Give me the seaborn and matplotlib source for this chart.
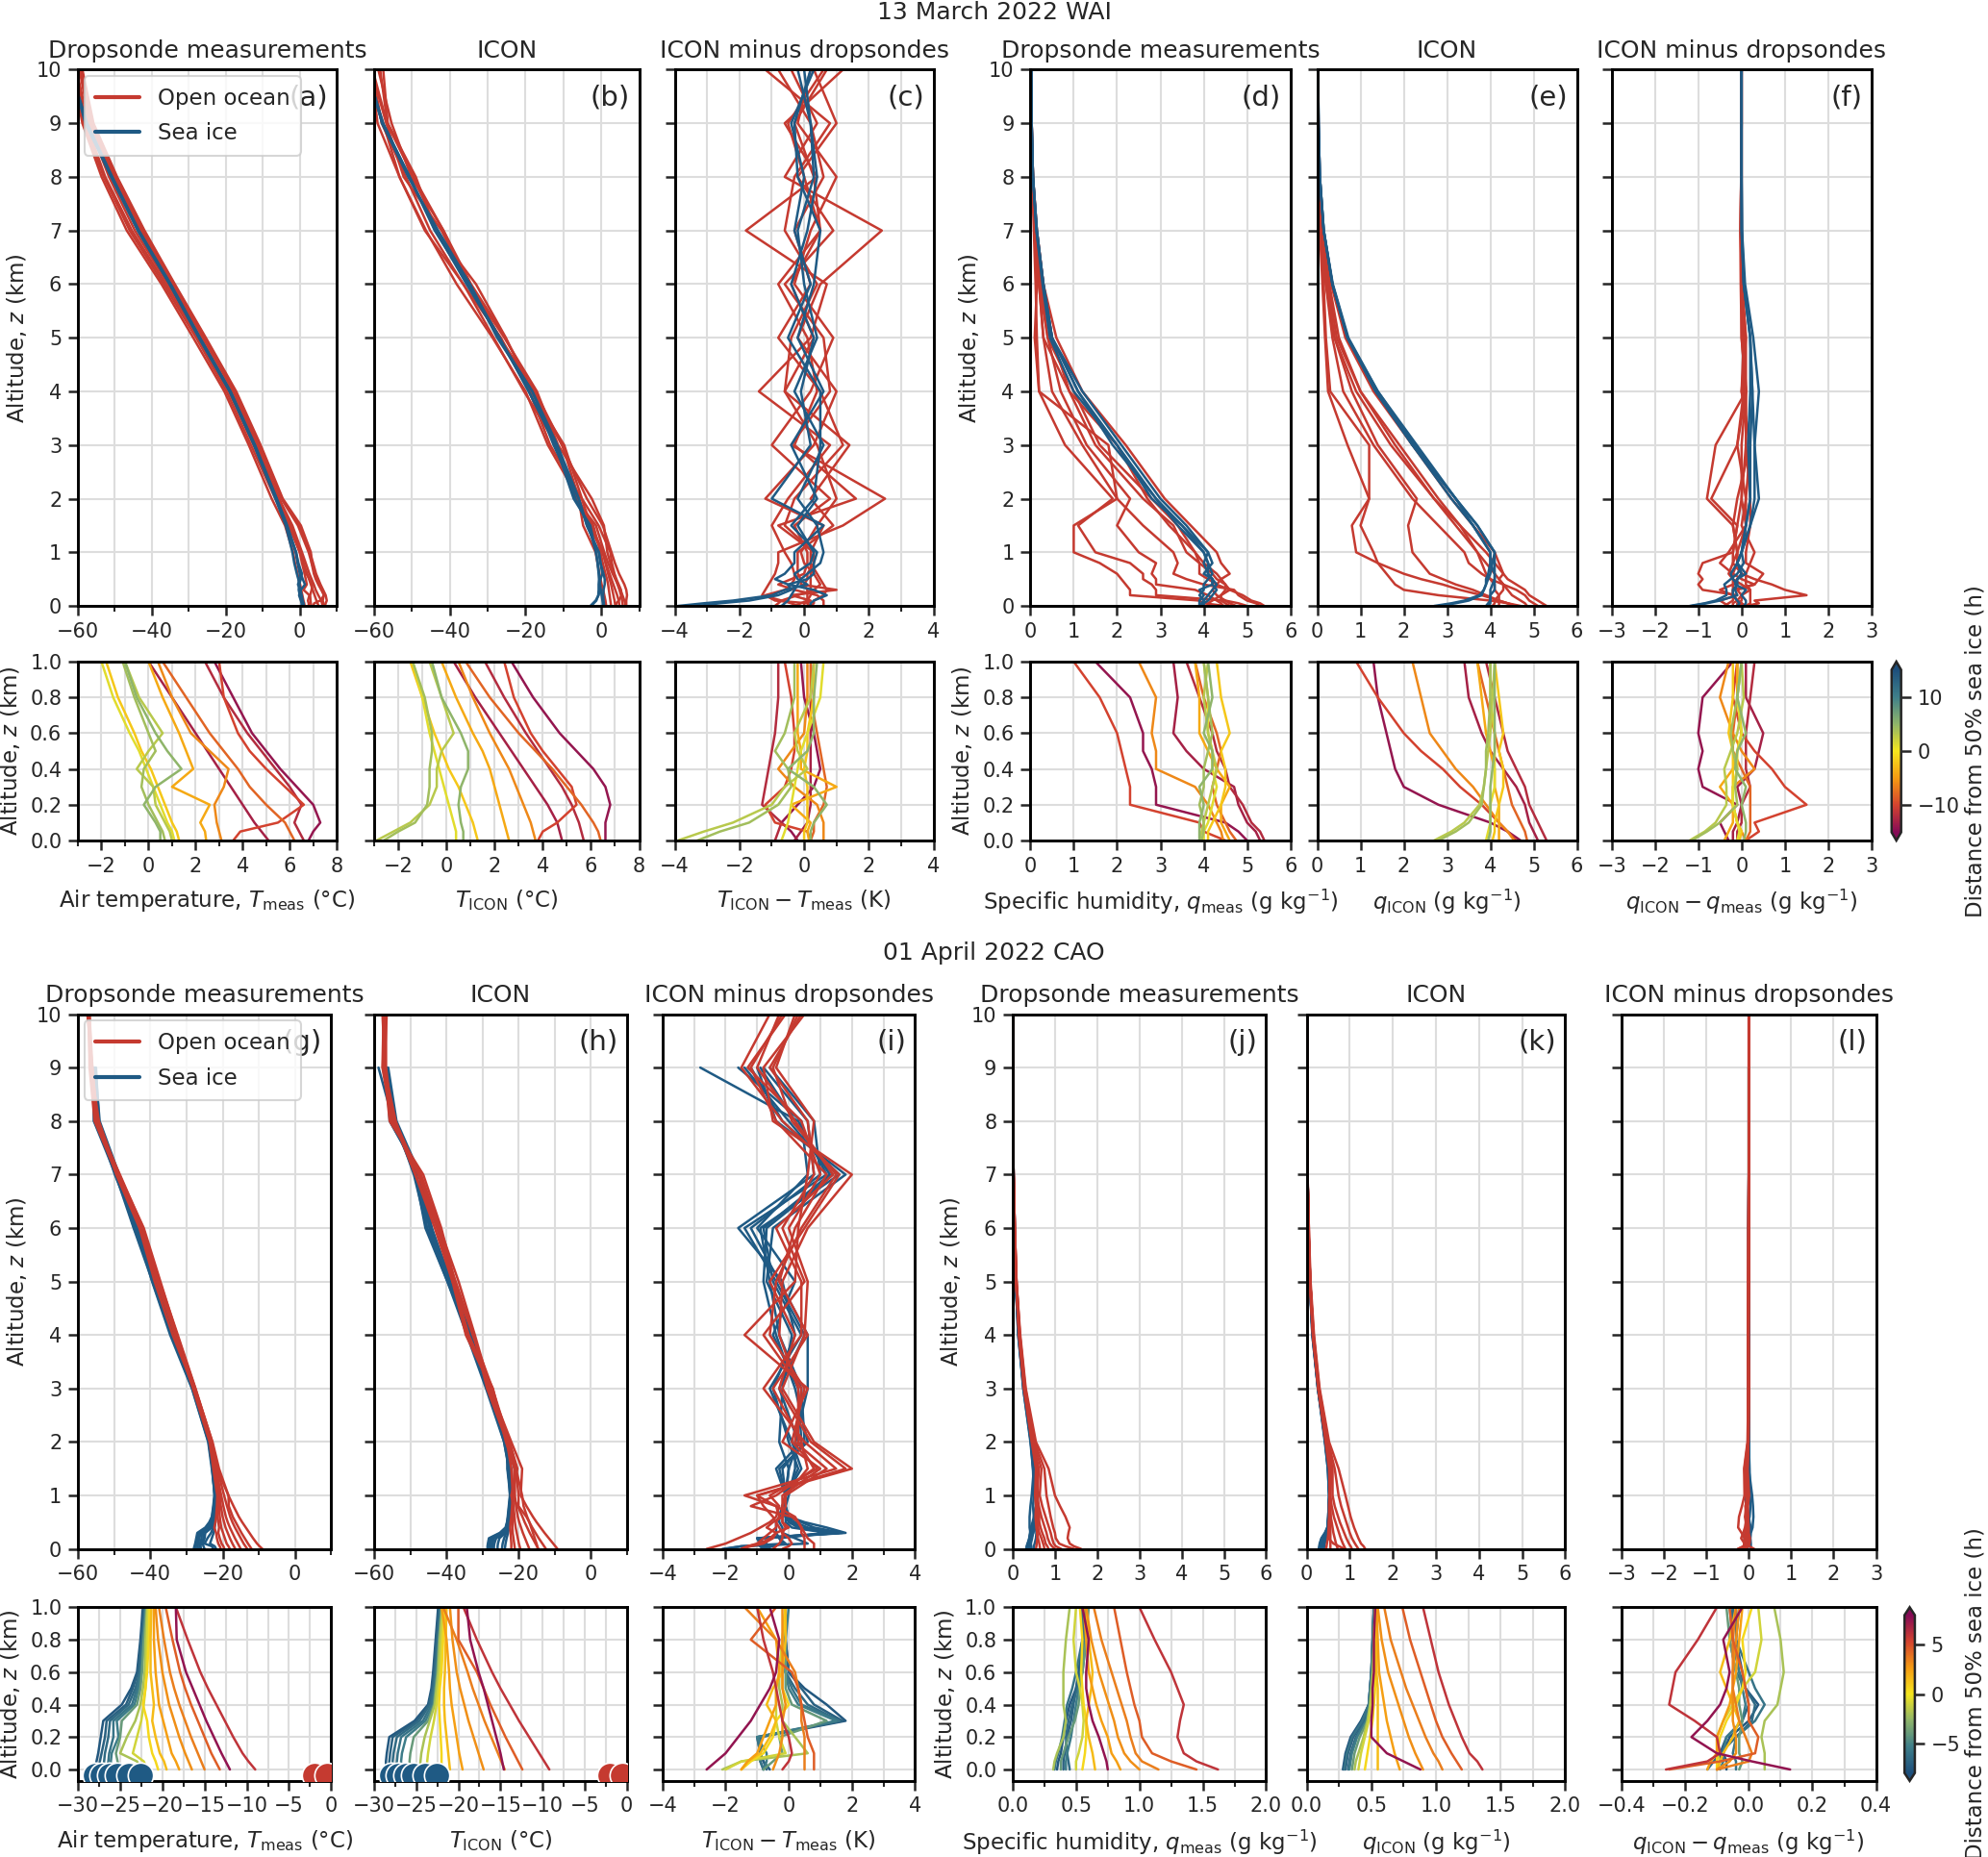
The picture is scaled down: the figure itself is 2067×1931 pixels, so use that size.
import numpy as np
import pandas as pd
import matplotlib
matplotlib.use("Agg")
import matplotlib.pyplot as plt
import seaborn as sns
from matplotlib.colors import LinearSegmentedColormap, Normalize
from matplotlib.cm import ScalarMappable
from matplotlib.lines import Line2D
from matplotlib.ticker import MultipleLocator

# ------------------------------------------------------------------ data
Z_LEVELS = [0, 0.05, 0.1, 0.2, 0.3, 0.4, 0.5, 0.6, 0.8, 1.0, 1.5, 2, 3, 4, 5, 6, 7, 8, 9, 10]

# ---- 13 March 2022 (WAI)
mar_ids = ["M01", "M02", "M03", "M04", "M05", "M06", "M07", "M08", "M09", "M10", "M11", "M12"]
mar_dist = [-14, -13, -12, -10, -8, -6, -4, -2, 1, 3, 4, 5]
mar_surface = ["Open ocean"] * 8 + ["Sea ice"] * 4
mar_T_meas = [
    [6.8, 7.0, 7.3, 7.0, 6.3, 5.6, 5.0, 4.4, 3.6, 2.8, 0.0, -4.8, -10.8, -17.4, -25.6, -34.0, -42.2, -49.6, -56.0, -59.0],
    [5.1, 4.8, 4.5, 4.0, 3.5, 3.0, 2.5, 2.0, 1.0, 0.0, -2.6, -5.6, -11.5, -18.0, -26.0, -34.8, -43.0, -50.2, -56.8, -59.6],
    [6.6, 6.4, 6.2, 6.5, 6.0, 5.4, 4.8, 4.2, 3.2, 2.4, -0.5, -5.0, -11.0, -17.8, -26.2, -34.4, -42.6, -50.0, -56.4, -59.2],
    [3.6, 3.9, 5.5, 6.6, 5.8, 5.0, 4.3, 3.8, 3.2, 3.0, 0.3, -4.6, -10.6, -17.2, -25.4, -33.8, -42.0, -49.4, -55.8, -58.8],
    [6.2, 6.0, 5.8, 5.0, 4.3, 3.8, 3.2, 2.6, 1.6, 0.6, -2.0, -5.6, -12.0, -18.6, -26.8, -35.6, -44.6, -51.6, -57.2, -60.4],
    [3.1, 3.0, 2.9, 2.8, 3.2, 3.4, 2.6, 1.8, 1.0, 0.4, -2.4, -6.0, -12.5, -19.2, -27.4, -36.2, -45.4, -52.6, -57.8, -60.8],
    [2.45, 2.4, 2.2, 2.6, 1.0, 1.9, 1.6, 1.3, 0.6, 0.0, -3.0, -6.6, -13.2, -19.8, -28.0, -36.8, -46.0, -53.0, -58.4, -61.0],
    [1.3, 1.2, 1.0, 0.7, 0.4, 0.1, -0.3, -0.6, -1.3, -1.8, -4.0, -7.6, -13.8, -20.4, -28.8, -37.4, -46.8, -53.6, -58.8, -61.5],
    [1.1, 1.0, 0.8, 0.5, 0.2, -0.1, -0.4, -0.8, -1.5, -2.0, -3.8, -6.6, -12.4, -18.9, -27.2, -35.2, -43.8, -51.0, -58.0, -62.0],
    [1.0, 0.9, 0.7, 0.3, 0.2, -0.5, 0.0, 0.6, -0.4, -1.0, -3.6, -6.4, -12.2, -18.8, -27.0, -35.0, -43.6, -50.8, -57.6, -62.0],
    [0.7, 0.6, 0.4, 0.0, -0.3, -0.2, 0.3, 0.0, -0.6, -1.1, -3.5, -6.3, -12.3, -19.0, -27.3, -35.2, -43.8, -51.0, -57.8, -62.0],
    [0.5, 0.5, 0.3, -0.2, 0.3, 1.4, 0.8, 0.3, -0.5, -1.0, -3.4, -6.2, -12.1, -18.7, -27.0, -34.9, -43.5, -50.7, -57.5, -62.0],
]
mar_T_icon = [
    [6.6, 6.6, 6.6, 6.8, 6.6, 6.1, 5.4, 4.7, 3.6, 2.7, 0.4, -3.8, -10.4, -18.0, -25.3, -34.4, -41.7, -49.6, -56.5, -58.4],
    [4.8, 4.7, 4.6, 4.2, 3.7, 3.2, 2.7, 2.2, 1.2, 0.3, -3.2, -5.9, -10.3, -17.5, -26.8, -34.6, -43.3, -49.6, -56.6, -60.4],
    [5.7, 5.6, 5.5, 5.2, 4.8, 4.3, 3.8, 3.3, 2.4, 1.6, 0.7, -2.5, -11.4, -17.0, -25.6, -35.0, -41.7, -50.2, -55.4, -58.9],
    [3.8, 4.0, 4.6, 5.4, 5.2, 4.6, 4.0, 3.5, 2.8, 2.4, -0.7, -5.1, -9.8, -18.6, -25.2, -33.1, -43.8, -49.0, -56.4, -57.6],
    [6.4, 6.3, 6.1, 5.6, 5.0, 4.4, 3.7, 3.0, 1.8, 0.8, -1.4, -6.8, -11.7, -17.6, -27.0, -35.1, -42.2, -52.2, -56.8, -60.8],
    [3.7, 3.6, 3.5, 3.2, 2.9, 2.6, 2.2, 1.8, 1.1, 0.5, -2.7, -5.2, -13.5, -19.0, -26.5, -36.5, -45.2, -51.6, -58.0, -60.6],
    [2.6, 2.5, 2.4, 2.2, 2.0, 1.8, 1.5, 1.1, 0.4, -0.2, -2.1, -6.4, -11.8, -20.4, -28.4, -36.4, -46.6, -53.3, -57.6, -62.2],
    [1.3, 1.2, 1.1, 0.8, 0.5, 0.1, -0.2, -0.5, -1.0, -1.5, -4.8, -6.0, -14.1, -20.0, -28.7, -38.2, -46.3, -53.3, -59.1, -60.8],
    [0.4, 0.4, 0.3, 0.1, -0.1, -0.3, -0.5, -0.7, -1.0, -1.4, -3.4, -6.8, -11.8, -19.2, -26.8, -35.2, -44.0, -50.7, -57.8, -62.2],
    [-2.9, -2.2, -1.5, -0.7, -0.4, -0.4, -0.2, 0.3, -0.2, -0.7, -3.8, -6.0, -12.6, -18.2, -27.2, -34.7, -43.1, -51.0, -57.9, -61.8],
    [-2.6, -2.0, -1.3, -0.8, -0.7, -0.7, -0.6, -0.6, -0.9, -1.4, -2.9, -7.3, -12.1, -19.1, -27.0, -35.6, -43.7, -50.6, -57.6, -62.0],
    [0.7, 0.7, 0.6, 0.5, 0.6, 0.9, 0.9, 0.6, -0.2, -0.6, -3.8, -5.9, -11.6, -18.2, -27.5, -34.7, -43.8, -50.7, -57.9, -61.7],
]
mar_q_meas = [
    [5.0, 4.8, 4.5, 2.9, 2.9, 2.8, 2.6, 2.6, 2.3, 1.5, 1.1, 1.9, 0.8, 0.2, 0.15, 0.12, 0.08, 0.04, 0.02, 0.01],
    [5.3, 5.2, 5.0, 4.8, 4.7, 4.0, 3.6, 3.3, 3.4, 3.3, 2.6, 2.0, 1.2, 0.5, 0.3, 0.2, 0.1, 0.05, 0.02, 0.01],
    [5.4, 5.3, 5.1, 4.9, 4.6, 4.5, 4.3, 4.2, 3.9, 3.6, 3.3, 2.6, 1.5, 0.9, 0.3, 0.2, 0.12, 0.06, 0.03, 0.01],
    [4.5, 4.0, 3.9, 2.3, 2.3, 2.2, 2.1, 2.0, 1.6, 1.0, 1.0, 2.0, 1.8, 0.2, 0.1, 0.15, 0.1, 0.05, 0.02, 0.01],
    [4.75, 4.6, 4.5, 4.3, 4.2, 4.3, 4.4, 4.3, 4.0, 3.8, 3.2, 2.7, 2.0, 0.9, 0.5, 0.3, 0.15, 0.06, 0.03, 0.01],
    [4.45, 4.4, 4.3, 4.1, 3.8, 2.9, 2.9, 2.8, 2.9, 2.5, 2.0, 2.3, 1.3, 0.7, 0.4, 0.2, 0.1, 0.05, 0.02, 0.01],
    [4.6, 4.5, 4.4, 4.4, 4.6, 4.3, 4.1, 3.9, 3.9, 3.8, 3.4, 2.8, 1.6, 1.0, 0.4, 0.25, 0.12, 0.05, 0.02, 0.01],
    [4.1, 4.1, 4.2, 4.4, 4.5, 4.5, 4.4, 4.6, 4.4, 4.3, 3.7, 3.1, 2.2, 1.2, 0.6, 0.3, 0.15, 0.06, 0.03, 0.01],
    [4.0, 4.0, 4.1, 4.2, 4.3, 4.2, 4.2, 4.1, 4.1, 4.0, 3.5, 2.9, 2.0, 1.1, 0.5, 0.3, 0.15, 0.06, 0.03, 0.02],
    [3.9, 3.95, 4.0, 4.1, 4.2, 4.3, 4.2, 4.1, 4.0, 4.1, 3.6, 3.0, 2.1, 1.2, 0.5, 0.3, 0.15, 0.06, 0.03, 0.02],
    [3.95, 4.0, 4.0, 3.9, 4.0, 4.0, 4.1, 4.2, 4.1, 4.0, 3.4, 2.9, 1.9, 1.1, 0.5, 0.3, 0.14, 0.06, 0.03, 0.02],
    [3.9, 3.9, 3.9, 4.0, 3.9, 4.2, 4.2, 4.0, 4.2, 4.1, 3.5, 2.8, 2.0, 1.0, 0.45, 0.28, 0.14, 0.06, 0.03, 0.02],
]
mar_q_icon = [
    [4.7, 4.4, 4.0, 2.8, 2.0, 1.8, 1.7, 1.6, 1.4, 1.3, 1.0, 1.2, 0.7, 0.25, 0.18, 0.12, 0.06, 0.03, 0.02, 0.01],
    [5.1, 5.0, 4.9, 4.8, 4.6, 4.3, 4.0, 3.8, 3.5, 3.4, 2.8, 2.2, 1.3, 0.6, 0.35, 0.2, 0.1, 0.05, 0.02, 0.01],
    [5.3, 5.2, 5.1, 4.9, 4.8, 4.6, 4.4, 4.3, 4.1, 3.9, 3.3, 2.7, 1.7, 0.9, 0.4, 0.22, 0.1, 0.05, 0.02, 0.01],
    [4.6, 4.4, 4.2, 3.8, 3.3, 2.9, 2.4, 2.0, 1.4, 0.9, 0.8, 1.2, 1.2, 0.3, 0.2, 0.15, 0.08, 0.04, 0.02, 0.01],
    [4.85, 4.8, 4.7, 4.5, 4.4, 4.3, 4.2, 4.1, 3.9, 3.7, 3.3, 2.8, 1.9, 1.0, 0.5, 0.28, 0.12, 0.05, 0.02, 0.01],
    [4.55, 4.4, 4.2, 3.9, 3.6, 3.2, 2.9, 2.6, 2.4, 2.2, 2.1, 2.3, 1.4, 0.8, 0.4, 0.2, 0.1, 0.05, 0.02, 0.01],
    [4.2, 4.2, 4.2, 4.2, 4.1, 4.1, 4.0, 3.9, 3.8, 3.7, 3.2, 2.7, 1.8, 1.0, 0.45, 0.25, 0.12, 0.05, 0.02, 0.01],
    [4.05, 4.1, 4.1, 4.2, 4.3, 4.3, 4.2, 4.3, 4.2, 4.1, 3.6, 3.1, 2.2, 1.3, 0.65, 0.32, 0.14, 0.06, 0.03, 0.01],
    [3.9, 3.95, 4.0, 4.0, 4.1, 4.1, 4.1, 4.1, 4.0, 4.0, 3.6, 3.1, 2.2, 1.35, 0.7, 0.35, 0.15, 0.06, 0.03, 0.02],
    [2.7, 3.1, 3.4, 3.75, 3.85, 3.9, 3.95, 4.0, 4.05, 4.1, 3.7, 3.2, 2.25, 1.4, 0.7, 0.35, 0.15, 0.06, 0.03, 0.02],
    [2.8, 3.2, 3.5, 3.8, 3.85, 3.9, 3.9, 3.95, 4.0, 4.0, 3.6, 3.2, 2.2, 1.35, 0.7, 0.35, 0.15, 0.06, 0.03, 0.02],
    [3.95, 4.0, 4.0, 4.0, 4.0, 4.05, 4.1, 4.1, 4.1, 4.1, 3.7, 3.2, 2.3, 1.4, 0.72, 0.36, 0.15, 0.06, 0.03, 0.02],
]

# ---- 01 April 2022 (CAO)
nan = np.nan
apr_ids = ["A01", "A02", "A03", "A04", "A05", "A06", "A07", "A08",
           "A09", "A10", "A11", "A12", "A13", "A14", "A15", "A16"]
apr_dist = [-7.5, -7, -6.5, -6, -5.5, -4, -2, -1, 0.5, 1.5, 2.5, 3, 3.5, 4.5, 6, 7.5]
apr_surface = ["Sea ice"] * 8 + ["Open ocean"] * 8
apr_T_meas = [
    [-28.0, -27.8, -27.6, -27.3, -27.0, -24.8, -23.7, -23.0, -22.6, -22.3, -22.8, -23.8, -28.2, -34.0, -39.0, -44.0, -49.5, -55.0, -56.0, nan],
    [-27.5, -27.4, -27.2, -26.8, -26.6, -24.3, -23.5, -22.9, -22.5, -22.2, -22.9, -23.6, -28.0, -33.5, -38.5, -44.5, -49.0, -55.5, -55.5, nan],
    [-27.0, -26.9, -26.8, -26.4, -26.2, -24.0, -23.2, -22.7, -22.4, -22.1, -23.0, -24.0, -28.5, -34.5, -39.5, -43.8, -49.8, -54.8, -56.2, nan],
    [-26.5, -26.4, -26.3, -25.8, -25.8, -23.6, -23.0, -22.6, -22.3, -22.0, -22.7, -23.5, -27.8, -33.2, -38.0, -43.4, -48.8, -54.2, -55.0, nan],
    [-26.0, -26.1, -26.0, -25.2, -25.4, -23.3, -22.8, -22.5, -22.2, -22.0, -22.8, -23.9, -28.4, -34.2, -39.4, -44.6, -49.6, -55.6, -55.8, nan],
    [-25.0, -25.3, -25.5, -25.0, -24.8, -23.0, -22.6, -22.4, -22.2, -21.9, -22.6, -23.7, -28.1, -33.8, -38.8, -44.2, -49.2, -55.2, -55.4, nan],
    [-22.5, -23.0, -25.0, -24.2, -23.2, -22.6, -22.3, -22.1, -22.0, -21.8, -22.5, -23.6, -28.0, -33.6, -38.6, -43.6, -49.0, -54.6, -55.6, nan],
    [-21.8, -22.2, -23.5, -23.0, -22.5, -22.2, -22.0, -21.9, -21.8, -21.7, -22.4, -23.5, -27.9, -33.4, -38.4, -43.2, -48.6, -54.0, -55.2, nan],
    [-20.5, -20.8, -21.2, -21.6, -21.8, -22.3, -22.0, -21.8, -21.6, -21.5, -22.6, -23.6, -28.2, -33.0, -38.0, -42.6, -49.0, -54.2, -56.4, -57.0],
    [-19.5, -19.8, -20.3, -20.8, -21.2, -21.0, -21.2, -21.4, -21.4, -21.3, -22.4, -23.4, -27.9, -33.8, -38.8, -43.0, -49.4, -54.6, -56.6, -57.2],
    [-18.0, -18.4, -18.9, -19.4, -19.9, -20.4, -20.6, -20.8, -21.0, -21.0, -22.3, -23.2, -28.0, -32.6, -37.6, -42.4, -48.6, -55.0, -56.2, -56.8],
    [-16.5, -16.9, -17.3, -18.0, -18.6, -19.2, -19.6, -20.0, -20.5, -20.8, -22.0, -23.3, -27.7, -33.0, -38.2, -42.8, -49.2, -55.4, -56.8, -57.0],
    [-15.0, -15.4, -15.8, -16.6, -17.3, -18.0, -18.6, -19.1, -19.8, -20.4, -21.8, -23.0, -27.6, -32.8, -37.8, -42.2, -48.8, -54.8, -56.0, -57.4],
    [-13.2, -13.7, -14.2, -15.0, -15.8, -16.6, -17.3, -17.9, -18.8, -19.6, -21.5, -22.9, -27.5, -32.4, -37.4, -42.0, -48.4, -55.2, -56.4, -57.0],
    [-9.0, -9.8, -10.5, -11.6, -12.6, -13.6, -14.6, -15.5, -17.0, -18.4, -21.0, -22.8, -27.6, -32.6, -37.2, -41.8, -48.6, -54.6, -56.0, -56.8],
    [-12.0, -12.5, -13.0, -13.9, -14.8, -15.6, -16.4, -17.2, -18.3, -18.4, -21.6, -23.0, -27.8, -33.2, -37.6, -42.4, -49.0, -55.0, -56.2, -57.0],
]
apr_T_icon = [
    [-28.6, -28.6, -28.5, -28.2, -25.2, -23.6, -23.2, -23.0, -22.7, -22.4, -22.8, -23.5, -28.5, -33.5, -39.4, -45.4, -48.3, -54.7, -58.8, nan],
    [-28.2, -28.2, -28.1, -27.8, -24.9, -23.5, -23.1, -22.9, -22.6, -22.3, -23.1, -23.1, -27.6, -33.8, -39.1, -45.4, -47.4, -55.7, -56.7, nan],
    [-27.8, -27.8, -27.7, -27.3, -24.6, -23.4, -23.0, -22.8, -22.5, -22.2, -22.7, -24.0, -29.0, -34.3, -39.7, -45.4, -49.0, -54.2, -57.0, nan],
    [-27.3, -27.3, -27.2, -26.8, -24.2, -23.2, -22.9, -22.7, -22.4, -22.1, -23.0, -22.9, -27.6, -33.6, -38.8, -44.1, -47.4, -54.2, -56.4, nan],
    [-26.8, -26.8, -26.7, -26.2, -23.9, -23.0, -22.8, -22.6, -22.3, -22.0, -22.6, -23.7, -27.8, -33.6, -39.7, -45.8, -48.6, -54.8, -56.4, nan],
    [-25.8, -25.8, -25.7, -25.3, -23.6, -22.9, -22.7, -22.5, -22.3, -22.0, -22.6, -24.0, -28.3, -33.7, -39.5, -44.7, -47.4, -55.6, -56.4, nan],
    [-24.6, -24.5, -24.4, -24.0, -23.4, -22.8, -22.6, -22.4, -22.2, -21.9, -22.9, -23.2, -27.7, -34.1, -38.4, -44.6, -48.4, -54.2, -57.2, nan],
    [-23.8, -23.7, -23.6, -23.3, -22.9, -22.6, -22.4, -22.2, -22.0, -21.8, -22.0, -23.4, -28.5, -33.0, -38.9, -44.0, -47.3, -53.8, -56.1, nan],
    [-22.0, -22.0, -22.0, -22.1, -22.2, -22.3, -22.2, -22.0, -21.8, -21.6, -22.0, -23.2, -28.7, -32.4, -38.3, -42.4, -47.8, -54.6, -57.6, -57.2],
    [-21.0, -21.1, -21.2, -21.4, -21.6, -21.7, -21.7, -21.6, -21.5, -21.4, -21.2, -23.2, -27.5, -34.6, -38.3, -43.2, -48.6, -54.0, -57.2, -56.8],
    [-19.5, -19.7, -19.9, -20.2, -20.5, -20.8, -21.0, -21.1, -21.4, -22.0, -20.5, -22.5, -28.3, -32.4, -38.2, -41.9, -47.0, -55.2, -57.7, -57.4],
    [-17.0, -17.3, -17.6, -18.2, -18.8, -19.3, -19.8, -20.2, -20.7, -21.0, -21.0, -23.5, -27.1, -34.4, -38.0, -42.5, -48.6, -54.6, -57.2, -56.8],
    [-14.5, -14.9, -15.3, -16.1, -16.9, -17.6, -18.3, -18.9, -20.2, -21.8, -20.3, -22.5, -28.4, -32.4, -37.4, -42.6, -47.4, -54.6, -57.0, -57.7],
    [-12.4, -12.9, -13.4, -14.4, -15.3, -16.2, -17.0, -17.8, -20.0, -20.0, -20.7, -22.6, -27.2, -32.7, -37.6, -41.4, -46.4, -55.7, -57.2, -56.5],
    [-9.2, -9.8, -10.4, -11.6, -12.8, -13.9, -15.0, -16.0, -17.8, -19.4, -19.0, -22.0, -27.8, -32.1, -36.6, -41.8, -47.6, -54.2, -57.3, -56.9],
    [-14.6, -14.8, -15.0, -15.5, -16.0, -16.5, -17.0, -17.6, -18.6, -19.0, -20.7, -22.9, -27.3, -33.8, -38.0, -42.0, -47.5, -54.9, -56.7, -56.7],
]
apr_q_meas = [
    [0.35, 0.36, 0.38, 0.40, 0.42, 0.45, 0.50, 0.52, 0.55, 0.55, 0.48, 0.42, 0.25, 0.14, 0.07, 0.04, 0.02, 0.01, 0.005, nan],
    [0.40, 0.40, 0.41, 0.43, 0.46, 0.48, 0.50, 0.53, 0.56, 0.57, 0.50, 0.44, 0.27, 0.15, 0.08, 0.04, 0.02, 0.01, 0.005, nan],
    [0.45, 0.44, 0.43, 0.42, 0.44, 0.47, 0.51, 0.55, 0.58, 0.58, 0.52, 0.45, 0.26, 0.13, 0.07, 0.04, 0.02, 0.01, 0.005, nan],
    [0.33, 0.34, 0.36, 0.39, 0.41, 0.43, 0.47, 0.50, 0.55, 0.56, 0.49, 0.43, 0.28, 0.16, 0.08, 0.05, 0.02, 0.01, 0.005, nan],
    [0.42, 0.42, 0.43, 0.46, 0.48, 0.50, 0.52, 0.54, 0.57, 0.59, 0.51, 0.46, 0.27, 0.15, 0.07, 0.04, 0.02, 0.01, 0.005, nan],
    [0.38, 0.38, 0.40, 0.44, 0.49, 0.52, 0.53, 0.55, 0.58, 0.60, 0.53, 0.47, 0.29, 0.16, 0.08, 0.05, 0.02, 0.01, 0.005, nan],
    [0.32, 0.33, 0.35, 0.40, 0.42, 0.40, 0.40, 0.40, 0.42, 0.45, 0.50, 0.44, 0.26, 0.14, 0.07, 0.04, 0.02, 0.01, 0.005, nan],
    [0.50, 0.50, 0.52, 0.55, 0.56, 0.55, 0.53, 0.50, 0.48, 0.50, 0.48, 0.43, 0.25, 0.13, 0.07, 0.04, 0.02, 0.01, 0.005, nan],
    [0.55, 0.56, 0.57, 0.58, 0.58, 0.56, 0.55, 0.54, 0.55, 0.53, 0.55, 0.45, 0.27, 0.15, 0.08, 0.04, 0.02, 0.01, 0.005, 0.003],
    [0.65, 0.64, 0.63, 0.60, 0.58, 0.60, 0.62, 0.63, 0.60, 0.58, 0.56, 0.46, 0.28, 0.16, 0.08, 0.04, 0.02, 0.01, 0.005, 0.003],
    [0.85, 0.82, 0.78, 0.75, 0.70, 0.66, 0.63, 0.60, 0.58, 0.56, 0.60, 0.47, 0.27, 0.15, 0.08, 0.04, 0.02, 0.01, 0.005, 0.003],
    [1.00, 0.93, 0.88, 0.83, 0.80, 0.76, 0.72, 0.68, 0.62, 0.58, 0.62, 0.48, 0.28, 0.16, 0.09, 0.05, 0.02, 0.01, 0.005, 0.003],
    [1.15, 1.02, 0.97, 0.93, 0.90, 0.86, 0.82, 0.78, 0.70, 0.64, 0.68, 0.50, 0.29, 0.17, 0.09, 0.05, 0.02, 0.01, 0.005, 0.003],
    [1.45, 1.25, 1.10, 1.02, 1.00, 0.96, 0.93, 0.90, 0.85, 0.80, 0.75, 0.52, 0.30, 0.17, 0.09, 0.05, 0.02, 0.01, 0.005, 0.003],
    [1.62, 1.45, 1.35, 1.30, 1.32, 1.35, 1.30, 1.25, 1.12, 1.00, 0.85, 0.55, 0.31, 0.18, 0.09, 0.05, 0.02, 0.01, 0.005, 0.003],
    [0.75, 0.74, 0.72, 0.68, 0.63, 0.60, 0.58, 0.58, 0.60, 0.55, 0.58, 0.47, 0.28, 0.16, 0.08, 0.04, 0.02, 0.01, 0.005, 0.003],
]
apr_q_icon = [
    [0.28, 0.29, 0.30, 0.34, 0.42, 0.48, 0.49, 0.50, 0.51, 0.52, 0.49, 0.42, 0.26, 0.13, 0.07, 0.04, 0.02, 0.01, 0.005, nan],
    [0.30, 0.31, 0.32, 0.36, 0.44, 0.48, 0.49, 0.50, 0.51, 0.52, 0.50, 0.43, 0.27, 0.14, 0.07, 0.04, 0.02, 0.01, 0.005, nan],
    [0.32, 0.33, 0.34, 0.38, 0.45, 0.49, 0.50, 0.51, 0.52, 0.53, 0.50, 0.44, 0.26, 0.14, 0.07, 0.04, 0.02, 0.01, 0.005, nan],
    [0.29, 0.30, 0.31, 0.35, 0.43, 0.48, 0.49, 0.50, 0.51, 0.52, 0.49, 0.43, 0.27, 0.15, 0.08, 0.04, 0.02, 0.01, 0.005, nan],
    [0.33, 0.34, 0.35, 0.39, 0.46, 0.49, 0.50, 0.51, 0.52, 0.53, 0.51, 0.44, 0.27, 0.14, 0.07, 0.04, 0.02, 0.01, 0.005, nan],
    [0.35, 0.36, 0.37, 0.41, 0.47, 0.49, 0.50, 0.51, 0.52, 0.53, 0.51, 0.45, 0.28, 0.15, 0.08, 0.04, 0.02, 0.01, 0.005, nan],
    [0.37, 0.38, 0.40, 0.44, 0.47, 0.49, 0.50, 0.51, 0.52, 0.53, 0.50, 0.44, 0.26, 0.14, 0.07, 0.04, 0.02, 0.01, 0.005, nan],
    [0.40, 0.41, 0.42, 0.45, 0.48, 0.50, 0.51, 0.52, 0.52, 0.53, 0.50, 0.43, 0.26, 0.13, 0.07, 0.04, 0.02, 0.01, 0.005, nan],
    [0.45, 0.46, 0.47, 0.49, 0.51, 0.52, 0.53, 0.53, 0.53, 0.54, 0.52, 0.44, 0.27, 0.14, 0.07, 0.04, 0.02, 0.01, 0.005, 0.003],
    [0.55, 0.55, 0.55, 0.55, 0.55, 0.55, 0.55, 0.54, 0.54, 0.54, 0.53, 0.45, 0.27, 0.15, 0.08, 0.04, 0.02, 0.01, 0.005, 0.003],
    [0.72, 0.70, 0.68, 0.65, 0.62, 0.60, 0.58, 0.56, 0.55, 0.54, 0.55, 0.46, 0.27, 0.15, 0.08, 0.04, 0.02, 0.01, 0.005, 0.003],
    [0.90, 0.87, 0.84, 0.79, 0.75, 0.71, 0.67, 0.63, 0.58, 0.55, 0.57, 0.47, 0.28, 0.15, 0.08, 0.04, 0.02, 0.01, 0.005, 0.003],
    [1.05, 1.02, 0.98, 0.92, 0.87, 0.82, 0.77, 0.73, 0.65, 0.60, 0.60, 0.48, 0.28, 0.16, 0.08, 0.04, 0.02, 0.01, 0.005, 0.003],
    [1.20, 1.16, 1.12, 1.05, 1.00, 0.96, 0.92, 0.88, 0.80, 0.74, 0.65, 0.50, 0.29, 0.16, 0.08, 0.05, 0.02, 0.01, 0.005, 0.003],
    [1.36, 1.32, 1.26, 1.20, 1.15, 1.10, 1.06, 1.02, 0.96, 0.90, 0.74, 0.52, 0.30, 0.17, 0.09, 0.05, 0.02, 0.01, 0.005, 0.003],
    [0.88, 0.75, 0.62, 0.50, 0.50, 0.51, 0.51, 0.52, 0.52, 0.53, 0.55, 0.46, 0.28, 0.15, 0.08, 0.04, 0.02, 0.01, 0.005, 0.003],
]
# surface (skin) temperature markers shown in panels (g) and (h)
apr_skin_T_ice = [-28.0, -27.2, -26.2, -25.3, -24.0, -22.6]
apr_skin_T_ocean = [-2.0, -0.5]

# ------------------------------------------------------------------ style
RED = "#c53a30"
BLUE = "#1f5a84"
DIST_COLORS = ["#850b56", "#d4432f", "#f59b12", "#f5e61e", "#8fb56a", "#3f7f8a", "#1d4f7c"]
cmap_dist = LinearSegmentedColormap.from_list("dist", DIST_COLORS)

sns.set_theme(style="ticks")
plt.rcParams["font.family"] = ["DejaVu Sans"]
plt.rcParams["mathtext.fontset"] = "dejavusans"
plt.rcParams["axes.linewidth"] = 0.7

FS_TICK = 5.0
FS_LABEL = 5.5
FS_TITLE = 6.0
FS_PANEL = 7.0


def build(ids, dist, surf, Tm, Ti, qm, qi):
    rows = []
    for k, pid in enumerate(ids):
        for j, z in enumerate(Z_LEVELS):
            rows.append(dict(pid=pid, z=z, dist=dist[k], surf=surf[k],
                             Tm=Tm[k][j], Ti=Ti[k][j], qm=qm[k][j], qi=qi[k][j]))
    df = pd.DataFrame(rows)
    df["dT"] = df["Ti"] - df["Tm"]
    df["dq"] = df["qi"] - df["qm"]
    return df


df_mar = build(mar_ids, mar_dist, mar_surface, mar_T_meas, mar_T_icon, mar_q_meas, mar_q_icon)
df_apr = build(apr_ids, apr_dist, apr_surface, apr_T_meas, apr_T_icon, apr_q_meas, apr_q_icon)

fig = plt.figure(figsize=(2067 / 300, 1931 / 300), dpi=300)

COLS = ["Tm", "Ti", "dT", "qm", "qi", "dq"]
TITLES = ["Dropsonde measurements", "ICON", "ICON minus dropsondes"] * 2
XLABELS = ["Air temperature, $T_{\\mathrm{meas}}$ (°C)", "$T_{\\mathrm{ICON}}$ (°C)",
           "$T_{\\mathrm{ICON}} - T_{\\mathrm{meas}}$ (K)",
           "Specific humidity, $q_{\\mathrm{meas}}$ (g kg$^{-1}$)", "$q_{\\mathrm{ICON}}$ (g kg$^{-1}$)",
           "$q_{\\mathrm{ICON}} - q_{\\mathrm{meas}}$ (g kg$^{-1}$)"]

blocks = [
    dict(df=df_mar, ids=mar_ids, surf=mar_surface, dist=mar_dist,
         xs=[(0.0392, 0.1694), (0.1882, 0.3215), (0.3394, 0.4696), (0.5183, 0.6491), (0.6626, 0.7932), (0.8107, 0.9414)],
         top_y=(0.6737, 0.9625), bot_y=(0.5474, 0.6437),
         top_lim=[(-60, 10, 20, 10), (-60, 10, 20, 10), (-4, 4, 2, 1), (0, 6, 1, None), (0, 6, 1, None), (-3, 3, 1, None)],
         bot_lim=[(-3, 8, 2, 1), (-3, 8, 2, 1), (-4, 4, 2, 1), (0, 6, 1, None), (0, 6, 1, None), (-3, 3, 1, None)],
         bot_ylim=(0, 1.0), letters="abcdef", title="13 March 2022 WAI", title_y=0.9935,
         norm=Normalize(-15, 15), cmap=cmap_dist, cticks=[-10, 0, 10],
         cax=[0.9515, 0.5474, 0.0048, 0.0963], order_top=["Open ocean", "Sea ice"], skin=False),
    dict(df=df_apr, ids=apr_ids, surf=apr_surface, dist=apr_dist,
         xs=[(0.0392, 0.1666), (0.1882, 0.3153), (0.3332, 0.4603), (0.5094, 0.6369), (0.6573, 0.7873), (0.8156, 0.9437)],
         top_y=(0.1659, 0.4539), bot_y=(0.0410, 0.1345),
         top_lim=[(-60, 10, 20, 10), (-60, 10, 20, 10), (-4, 4, 2, 1), (0, 6, 1, None), (0, 6, 1, None), (-3, 3, 1, None)],
         bot_lim=[(-30, 0, 5, 2.5), (-30, 0, 5, 2.5), (-4, 4, 2, 1), (0, 2, 0.5, 0.25), (0, 2, 0.5, 0.25), (-0.4, 0.4, 0.2, 0.1)],
         bot_ylim=(-0.07, 1.0), letters="ghijkl", title="01 April 2022 CAO", title_y=0.4867,
         norm=Normalize(-8, 8), cmap=cmap_dist.reversed(), cticks=[-5, 0, 5],
         cax=[0.9580, 0.0410, 0.0052, 0.0935], order_top=["Sea ice", "Open ocean"], skin=True),
]


def style_axis(ax, lims, show_ylabels, ylabel):
    lo, hi, major, minor = lims
    ax.set_xlim(lo, hi)
    ax.xaxis.set_major_locator(MultipleLocator(major))
    if minor is not None:
        ax.xaxis.set_minor_locator(MultipleLocator(minor))
    ax.grid(True, which="both", axis="x", color="#dddddd", lw=0.5)
    ax.grid(True, which="major", axis="y", color="#dddddd", lw=0.5)
    ax.set_axisbelow(True)
    ax.tick_params(axis="both", which="major", labelsize=FS_TICK, length=2.5, width=0.6, pad=1.5)
    ax.tick_params(axis="both", which="minor", length=1.5, width=0.5)
    ax.tick_params(labelleft=show_ylabels)
    ax.set_xlabel("")
    ax.set_ylabel(ylabel if show_ylabels else "", fontsize=FS_LABEL, labelpad=2)
    for s in ax.spines.values():
        s.set_color("black")
        s.set_linewidth(0.7)


for blk in blocks:
    df = blk["df"]
    ordered = [pid for cat in blk["order_top"] for pid, s in zip(blk["ids"], blk["surf"]) if s == cat]
    pal_top = {pid: (RED if s == "Open ocean" else BLUE) for pid, s in zip(blk["ids"], blk["surf"])}
    pal_bot = {pid: blk["cmap"](blk["norm"](d)) for pid, d in zip(blk["ids"], blk["dist"])}
    for c, col in enumerate(COLS):
        x0, x1 = blk["xs"][c]
        # ---------------- upper (0-10 km) panel
        ax = fig.add_axes([x0, blk["top_y"][0], x1 - x0, blk["top_y"][1] - blk["top_y"][0]])
        sns.lineplot(data=df, x=col, y="z", hue="pid", hue_order=ordered, palette=pal_top,
                     estimator=None, sort=False, legend=False, lw=0.6, ax=ax)
        ax.set_ylim(0, 10)
        ax.yaxis.set_major_locator(MultipleLocator(1))
        style_axis(ax, blk["top_lim"][c], c in (0, 3), "Altitude, $z$ (km)")
        ax.set_title(TITLES[c], fontsize=FS_TITLE, pad=3)
        ax.text(0.965, 0.947, "(%s)" % blk["letters"][c], transform=ax.transAxes,
                ha="right", va="center", fontsize=FS_PANEL)
        if c == 0:
            handles = [Line2D([], [], color=RED, lw=1.0, label="Open ocean"),
                       Line2D([], [], color=BLUE, lw=1.0, label="Sea ice")]
            leg = ax.legend(handles=handles, loc="upper left", fontsize=FS_LABEL,
                            frameon=True, handlelength=2.0, borderpad=0.5,
                            borderaxespad=0.3, labelspacing=0.6)
            leg.get_frame().set_linewidth(0.5)
            leg.get_frame().set_edgecolor("#cccccc")
        # ---------------- lower (0-1 km) panel
        axb = fig.add_axes([x0, blk["bot_y"][0], x1 - x0, blk["bot_y"][1] - blk["bot_y"][0]])
        sns.lineplot(data=df, x=col, y="z", hue="pid", hue_order=blk["ids"], palette=pal_bot,
                     estimator=None, sort=False, legend=False, lw=0.6, ax=axb)
        if blk["skin"] and c in (0, 1):
            sns.scatterplot(x=apr_skin_T_ice, y=[-0.035] * len(apr_skin_T_ice), color=BLUE,
                            s=40, edgecolor="white", linewidth=0.4, ax=axb, zorder=5)
            sns.scatterplot(x=apr_skin_T_ocean, y=[-0.035] * len(apr_skin_T_ocean), color=RED,
                            s=40, edgecolor="white", linewidth=0.4, ax=axb, zorder=5)
        axb.set_ylim(*blk["bot_ylim"])
        axb.set_yticks([0.0, 0.2, 0.4, 0.6, 0.8, 1.0])
        style_axis(axb, blk["bot_lim"][c], c in (0, 3), "Altitude, $z$ (km)")
        axb.set_xlabel(XLABELS[c], fontsize=FS_LABEL, labelpad=3)

    fig.text(0.5, blk["title_y"], blk["title"], ha="center", va="center", fontsize=FS_TITLE)
    cax = fig.add_axes(blk["cax"])
    cb = fig.colorbar(ScalarMappable(norm=blk["norm"], cmap=blk["cmap"]), cax=cax,
                      extend="both", ticks=blk["cticks"])
    cb.outline.set_linewidth(0.6)
    cax.tick_params(labelsize=FS_TICK, length=2.5, width=0.6, pad=1.5)
    ymid = blk["cax"][1] + blk["cax"][3] / 2
    fig.text(0.9937, ymid, "Distance from 50% sea ice (h)", rotation=90,
             ha="center", va="center", fontsize=FS_LABEL)

fig.savefig("out.png", dpi=300)
